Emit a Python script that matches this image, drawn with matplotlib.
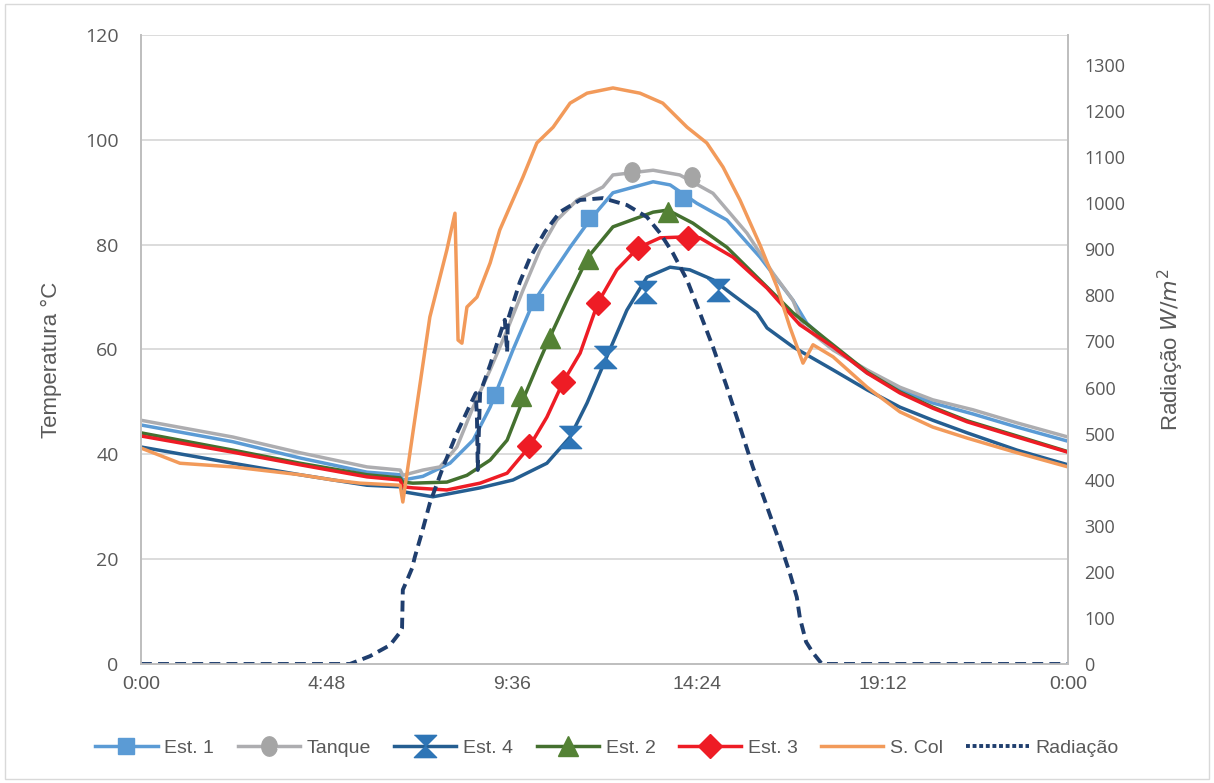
import math
import matplotlib
matplotlib.use("Agg")
import matplotlib.pyplot as plt
from matplotlib.lines import Line2D
from matplotlib.patches import Rectangle

# time in hours (0..24), temperatures in degC, radiation in W/m2
est1_h = [0, 2.38, 4.12, 5.85, 6.71, 6.78, 7.30, 8.00, 8.60, 9.04, 9.63, 10.15, 10.59, 11.11, 11.62,
          12.22, 13.26, 13.70, 14.39, 15.17, 16.03, 16.88, 17.24, 17.92, 18.80, 19.65, 20.50, 21.54, 22.68, 24.0]
est1_t = [45.6, 42.4, 39.3, 36.6, 36.1, 35.1, 35.8, 38.3, 42.7, 49.0, 59.9, 68.9, 73.8, 79.5, 84.7,
          89.9, 92.0, 91.4, 87.9, 84.7, 77.6, 69.4, 65.0, 60.5, 55.5, 52.3, 49.8, 47.7, 45.2, 42.5]
est1_mk_h = [9.17, 10.20, 11.60, 14.03]
est1_mk_t = [51.3, 69.0, 85.1, 88.9]

tanque_h = [0, 2.38, 4.12, 5.85, 6.71, 6.78, 7.30, 7.74, 8.18, 8.60, 9.04, 9.48, 9.89, 10.33, 10.77, 11.29,
            11.96, 12.22, 13.26, 13.95, 14.81, 15.69, 16.36, 16.88, 17.14, 17.92, 18.80, 19.65, 20.50, 21.54, 22.68, 24.0]
tanque_t = [46.5, 43.3, 40.3, 37.6, 37.0, 36.0, 37.0, 37.6, 41.4, 49.0, 56.1, 63.7, 71.3, 79.0, 84.7, 88.5,
            91.0, 93.3, 94.2, 93.3, 89.8, 82.2, 74.6, 69.4, 64.5, 59.9, 56.1, 52.8, 50.4, 48.5, 46.0, 43.3]
tanque_mk_h = [12.71, 14.27]
tanque_mk_t = [93.9, 92.9]

est4_h = [0, 2.38, 4.12, 5.85, 6.71, 6.84, 7.56, 8.78, 9.63, 10.51, 11.11, 11.55, 12.06, 12.58, 13.10, 13.70,
          14.21, 14.81, 15.33, 15.95, 16.21, 16.88, 17.92, 18.80, 19.65, 20.50, 21.39, 22.68, 24.0]
est4_t = [41.4, 38.3, 36.1, 34.1, 33.8, 32.8, 31.9, 33.6, 35.1, 38.3, 43.3, 49.8, 58.6, 67.5, 73.8, 75.7,
          75.2, 73.3, 70.4, 67.0, 64.1, 60.5, 56.1, 52.3, 49.0, 46.5, 44.1, 40.8, 38.0]
est4_mk_h = [11.11, 12.01, 13.05, 14.94]
est4_mk_t = [43.3, 58.6, 71.0, 71.3]

est2_h = [0, 2.38, 4.12, 5.85, 6.71, 6.78, 7.04, 7.92, 8.44, 9.04, 9.48, 9.89, 10.25, 10.59, 11.03, 11.57,
          12.22, 13.26, 13.64, 14.29, 15.17, 16.21, 16.88, 17.76, 18.80, 19.65, 20.50, 21.39, 22.68, 24.0]
est2_t = [44.1, 40.8, 38.3, 36.1, 35.5, 34.7, 34.5, 34.7, 36.0, 38.9, 42.7, 50.4, 56.7, 62.4, 69.4, 77.6,
          83.4, 86.2, 86.6, 84.1, 79.5, 71.9, 67.0, 61.8, 55.7, 51.9, 49.0, 46.4, 43.5, 40.5]
est2_mk_h = [9.84, 10.59, 11.57, 13.64]
est2_mk_t = [51.1, 62.2, 77.3, 86.2]

est3_h = [0, 2.38, 4.12, 5.85, 6.71, 6.78, 7.04, 7.92, 8.78, 9.48, 10.05, 10.51, 10.93, 11.37, 11.83, 12.32,
          12.87, 13.44, 14.16, 14.47, 15.33, 16.21, 17.06, 17.92, 18.80, 19.65, 20.50, 21.39, 22.68, 24.0]
est3_t = [43.5, 40.4, 38.0, 35.7, 35.1, 33.8, 33.6, 33.2, 34.5, 36.4, 41.4, 47.1, 53.8, 59.3, 68.9, 75.2,
          79.4, 81.3, 81.5, 81.3, 77.6, 71.7, 64.7, 60.5, 55.5, 51.7, 48.8, 46.2, 43.3, 40.4]
est3_mk_h = [10.05, 10.93, 11.83, 12.87, 14.16]
est3_mk_t = [41.6, 53.8, 68.9, 79.4, 81.3]

scol_h = [0, 1.01, 2.38, 4.12, 4.97, 5.67, 6.71, 6.78, 7.04, 7.48, 7.92, 8.13, 8.21, 8.31, 8.44, 8.70, 9.04,
          9.29, 9.55, 9.89, 10.25, 10.67, 11.11, 11.55, 12.22, 12.92, 13.51, 14.14, 14.65, 15.07, 15.51,
          16.03, 16.47, 16.80, 17.14, 17.40, 17.92, 18.80, 19.65, 20.50, 21.39, 22.68, 24.0]
scol_t = [41.2, 38.3, 37.6, 36.1, 35.1, 34.5, 34.1, 30.9, 44.1, 66.2, 79.0, 86.0, 61.8, 61.2, 68.1, 70.0, 76.5,
          82.8, 87.2, 92.9, 99.4, 102.4, 107.0, 108.9, 109.9, 108.9, 107.0, 102.4, 99.4, 94.8, 88.5,
          79.9, 71.9, 64.3, 57.4, 60.9, 58.6, 52.8, 48.1, 45.2, 43.1, 40.3, 37.6]

rad_h = [0, 5.41, 5.93, 6.45, 6.71, 6.76, 6.78, 6.89, 7.02, 7.09, 7.27, 7.48, 7.82, 8.18, 8.52, 8.67, 8.70,
         8.72, 8.75, 8.78, 9.04, 9.29, 9.42, 9.48, 9.50, 9.81, 10.07, 10.46, 10.85, 11.37, 11.96, 12.58,
         13.10, 13.44, 13.77, 14.14, 14.47, 14.81, 15.17, 15.51, 15.84, 16.21, 16.54, 16.80, 16.98, 17.06,
         17.14, 17.22, 17.40, 17.63, 24.0]
rad_w = [0, 0, 17, 41, 69, 78, 161, 182, 208, 232, 284, 349, 427, 501, 562, 588, 530,
         421, 508, 588, 649, 714, 747, 677, 747, 829, 881, 938, 981, 1007, 1011, 996,
         970, 935, 892, 833, 762, 688, 601, 514, 428, 341, 263, 197, 145, 100,
         74, 48, 24, 0, 0]

x_ticks = [0, 4.8, 9.6, 14.4, 19.2, 24]
x_labels = ["0:00", "4:48", "9:36", "14:24", "19:12", "0:00"]
legend_names = ["Est. 1", "Tanque", "Est. 4", "Est. 2", "Est. 3", "S. Col", "Radiação"]

narrow = ["Liberation Sans Narrow", "Liberation Sans", "DejaVu Sans"]
txt = "#595959"

fig = plt.figure(figsize=(12.14, 7.83), dpi=100)
ax = fig.add_axes([0.1161, 0.152, 0.7636, 0.8033])
ax2 = ax.twinx()

# custom markers: hourglass for Est. 4, upright ellipse for Tanque
hourglass = [(-1, 1), (1, 1), (0, 0), (1, -1), (-1, -1), (0, 0)]
ellipse = [(0.8 * math.cos(a / 24 * 2 * math.pi), math.sin(a / 24 * 2 * math.pi)) for a in range(24)]

series = [
    (est1_h, est1_t, est1_mk_h, est1_mk_t, "#5B9BD5", "#5B9BD5", "s", 12),
    (tanque_h, tanque_t, tanque_mk_h, tanque_mk_t, "#ADADB0", "#A5A5A5", ellipse, 14),
    (est4_h, est4_t, est4_mk_h, est4_mk_t, "#255E91", "#2E75B6", hourglass, 16),
    (est2_h, est2_t, est2_mk_h, est2_mk_t, "#44702F", "#548235", "^", 15),
    (est3_h, est3_t, est3_mk_h, est3_mk_t, "#EE1C25", "#EE1C25", "D", 12),
]
handles = []
for h, t, mh, mt, lc, mc, mk, ms in series:
    ax.plot(h, t, color=lc, lw=2.5, solid_joinstyle="round")
    ax.plot(mh, mt, ls="none", marker=mk, ms=ms, color=mc, mec=mc)
    handles.append(Line2D([], [], color=lc, lw=2.5, marker=mk, ms=ms, mfc=mc, mec=mc))

ax.plot(scol_h, scol_t, color="#F29A5A", lw=2.5)
handles.append(Line2D([], [], color="#F29A5A", lw=2.5))

ax2.plot(rad_h, rad_w, color="#1F3E6E", lw=2.8, ls=(0, (2.8, 1.6)))
handles.append(Line2D([], [], color="#1F3E6E", lw=2.8, ls=(0, (1.0, 0.7))))

ax.set_xlim(0, 24)
ax.set_ylim(0, 120)
ax.set_yticks(range(0, 121, 20))
ax2.set_ylim(0, 1365)
ax2.set_yticks(range(0, 1301, 100))
ax.set_xticks(x_ticks)
ax.set_xticklabels(x_labels, family=narrow, fontsize=14, color=txt)

ax.grid(axis="y", color="#D9D9D9", lw=1.3)
ax.set_axisbelow(True)
for a in (ax, ax2):
    a.spines["top"].set_visible(False)
    for s in ("left", "right", "bottom"):
        a.spines[s].set_color("#BFBFBF")
        a.spines[s].set_linewidth(1.3)
ax.tick_params(axis="both", length=0)
ax2.tick_params(axis="y", length=0, pad=12, labelsize=13, labelcolor=txt)
ax.tick_params(axis="y", pad=16, labelsize=14, labelcolor=txt)
ax.tick_params(axis="x", pad=9)
for lb in ax.get_yticklabels() + ax2.get_yticklabels():
    lb.set_family(["Open Sans", "DejaVu Sans"])

ax.set_ylabel("Temperatura °C", family=narrow, fontsize=16, color=txt)
ax.yaxis.set_label_coords(-0.085, 0.483)
ax2.set_ylabel(r"Radiação $W/m^2$", family=narrow, fontsize=16, color=txt)
ax2.yaxis.set_label_coords(1.095, 0.5)

fig.legend(handles, legend_names, loc="center", bbox_to_anchor=(0.5, 0.045), ncol=7, frameon=False,
           prop={"family": narrow, "size": 14}, handlelength=3.2, columnspacing=1.2,
           handletextpad=0.35, labelcolor=txt)

fig.patches.append(Rectangle((0.004, 0.005), 0.992, 0.99, transform=fig.transFigure,
                             fill=False, edgecolor="#D9D9D9", lw=1))

fig.savefig("out.png", dpi=100)
